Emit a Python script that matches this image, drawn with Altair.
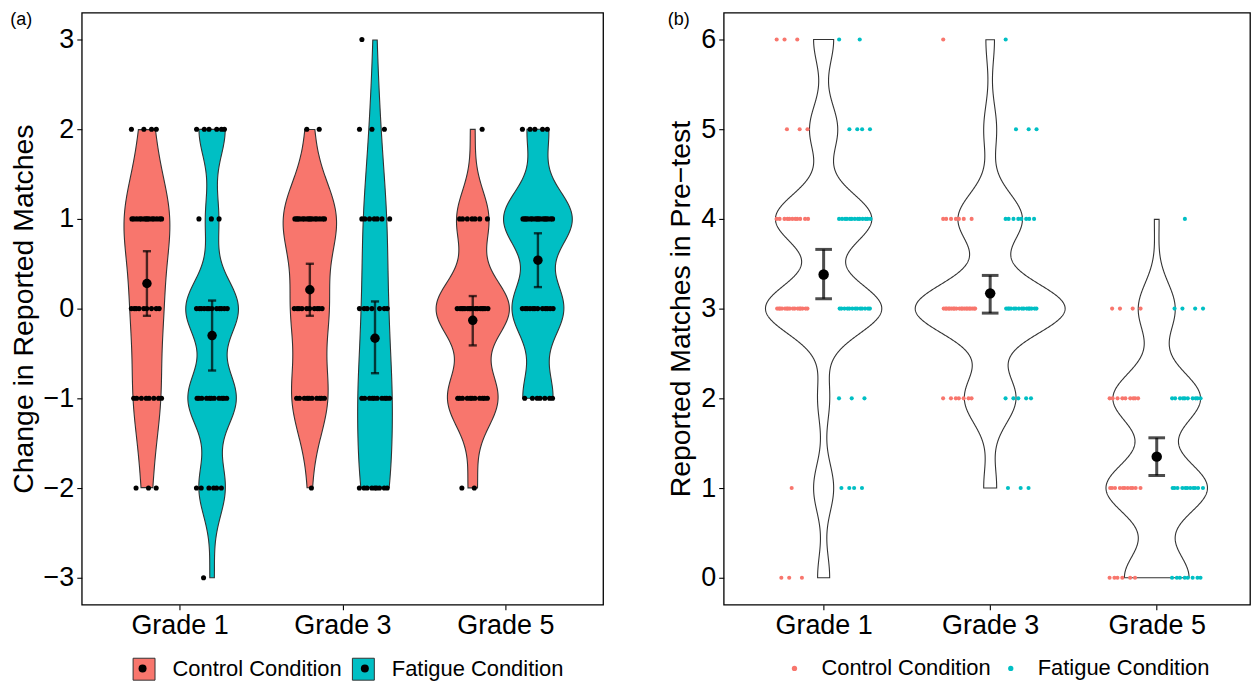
import json
import altair as alt
import pandas as pd

FONT = "Liberation Sans"
GRADES = ["Grade 1", "Grade 3", "Grade 5"]
CONDITIONS = ["Control Condition", "Fatigue Condition"]
COND_COLORS = ["#F8766D", "#00BFC4"]

# ---- panel (a): change in reported matches, counts per level ----
CHANGE_LEVELS = [-3, -2, -1, 0, 1, 2, 3]
change_g1_control = [0, 3, 8, 9, 14, 4, 0]
change_g1_fatigue = [1, 6, 11, 12, 3, 6, 0]
change_g3_control = [0, 1, 10, 10, 15, 2, 0]
change_g3_fatigue = [0, 9, 10, 7, 7, 3, 1]
change_g5_control = [0, 2, 11, 16, 7, 1, 0]
change_g5_fatigue = [0, 0, 7, 12, 16, 5, 0]

# group order: G1 control, G1 fatigue, G3 control, G3 fatigue, G5 control, G5 fatigue
change_mean = [0.28, -0.30, 0.21, -0.33, -0.13, 0.54]
change_low = [-0.08, -0.69, -0.08, -0.72, -0.41, 0.24]
change_high = [0.64, 0.09, 0.50, 0.08, 0.14, 0.84]

# ---- panel (b): reported matches in pre-test, counts per level ----
PRE_LEVELS = [0, 1, 2, 3, 4, 5, 6]
pre_g1_control = [3, 1, 0, 16, 11, 3, 3]
pre_g1_fatigue = [0, 4, 3, 13, 13, 4, 2]
pre_g3_control = [0, 0, 7, 20, 7, 0, 1]
pre_g3_fatigue = [0, 3, 5, 15, 8, 3, 1]
pre_g5_control = [6, 11, 9, 4, 0, 0, 0]
pre_g5_fatigue = [8, 11, 10, 4, 1, 0, 0]

pre_mean = [3.38, 3.17, 1.35]
pre_low = [3.11, 2.95, 1.14]
pre_high = [3.66, 3.37, 1.56]


def expand(levels, counts, grade, cond):
    rows = []
    for lvl, c in zip(levels, counts):
        rows += [{"grade": grade, "cond": cond, "value": lvl}] * c
    return rows


change_sets = [change_g1_control, change_g1_fatigue, change_g3_control,
               change_g3_fatigue, change_g5_control, change_g5_fatigue]
pre_sets = [pre_g1_control, pre_g1_fatigue, pre_g3_control,
            pre_g3_fatigue, pre_g5_control, pre_g5_fatigue]
groups = [(g, c) for g in GRADES for c in CONDITIONS]

change_rows, pre_rows = [], []
for (g, c), cs, ps in zip(groups, change_sets, pre_sets):
    change_rows += expand(CHANGE_LEVELS, cs, g, c)
    pre_rows += expand(PRE_LEVELS, ps, g, c)
change_df = pd.DataFrame(change_rows)
pre_df = pd.DataFrame(pre_rows)

change_sum = pd.DataFrame({
    "grade": [g for g, c in groups], "cond": [c for g, c in groups],
    "mean": change_mean, "low": change_low, "high": change_high})
pre_sum = pd.DataFrame({"grade": GRADES, "mean": pre_mean, "low": pre_low, "high": pre_high})

GIDX = f"(indexof({json.dumps(GRADES)}, datum.grade) + 1)"
DODGE_A = f"{GIDX} + (datum.cond == '{CONDITIONS[0]}' ? -0.2 : 0.2)"
DODGE_B = f"{GIDX} + (datum.cond == '{CONDITIONS[0]}' ? -0.1875 : 0.1875)"
LABEL_EXPR = f"{json.dumps(GRADES)}[datum.value - 1]"

xaxis = alt.Axis(values=[1, 2, 3], labelExpr=LABEL_EXPR, title=None, grid=False)


def violin(df, groupby, center_expr, half_max, **mark_kw):
    # ggplot-style violin: gaussian KDE with bw.nrd0 per group, trimmed, area-scaled
    return (
        alt.Chart(df)
        .transform_joinaggregate(sd="stdev(value)", q1="q1(value)", q3="q3(value)",
                                 n="count()", vmin="min(value)", vmax="max(value)",
                                 groupby=groupby)
        .transform_calculate(lo="min(datum.sd, (datum.q3 - datum.q1) / 1.34)")
        .transform_calculate(bw="0.9 * (datum.lo > 0 ? datum.lo : datum.sd) * pow(datum.n, -0.2)")
        .transform_calculate(vs="datum.value / datum.bw")
        .transform_density("vs", groupby=groupby + ["bw", "vmin", "vmax"], bandwidth=1,
                           steps=1200, as_=["vs", "dens"])
        .transform_calculate(v="datum.vs * datum.bw", d="datum.dens / datum.bw")
        .transform_filter("datum.v >= datum.vmin - 1e-9 && datum.v <= datum.vmax + 1e-9")
        .transform_joinaggregate(maxd="max(d)")
        .transform_calculate(cx=center_expr)
        .transform_calculate(xl=f"datum.cx - {half_max} * datum.d / datum.maxd",
                             xr=f"datum.cx + {half_max} * datum.d / datum.maxd")
        .mark_area(orient="horizontal", stroke="#333333", strokeWidth=1.1, **mark_kw)
    )


def axis_y(values, title):
    return alt.Axis(values=values, format="d", title=title, grid=False)


def panel_title(text):
    return alt.TitleParams(text, anchor="start", frame="bounds", fontSize=18,
                           fontWeight="normal", offset=-16, dx=1, color="black")


LEG_Y = 647
LEG_COMMON = dict(title=None, orient="none", direction="horizontal", padding=0,
                  labelFontSize=22, labelLimit=400, labelColor="black")


def build_panel(xscale, yscale, yaxis, vio, pts_df, pts_center, pts_size, pts_color,
                sumdf, center_expr, cap, bar_w, mean_size, mean_shape, width, title):
    def Xq(field):
        return alt.X(field, type="quantitative", scale=xscale, axis=xaxis)

    def Yq(field):
        return alt.Y(field, type="quantitative", scale=yscale, axis=yaxis)

    v_layer = vio.encode(y=Yq("v"), x=alt.X("xl:Q", scale=xscale, axis=xaxis, stack=None),
                         x2="xr:Q", detail="grade:N")
    pts = (
        alt.Chart(pts_df)
        .transform_window(rn="row_number()", groupby=["grade", "cond", "value"])
        .transform_calculate(cx=pts_center)
        .transform_calculate(px="datum.cx + (((datum.rn * 0.618034 + (datum.value + 5) * 0.31) % 1) - 0.5) * 0.2")
        .mark_circle(size=pts_size, opacity=1, **({"color": "black"} if pts_color is None else {}))
        .encode(x=Xq("px"), y=Yq("value"))
    )
    if pts_color is not None:
        pts = pts.encode(color=pts_color)

    base = alt.Chart(sumdf).transform_calculate(cx=center_expr).transform_calculate(
        cl=f"datum.cx - {cap}", cr=f"datum.cx + {cap}", cond_key="datum.cond || ''")
    kw = dict(color="black", opacity=0.7, strokeWidth=bar_w)
    bar = base.mark_rule(**kw).encode(x=Xq("cx"), y=Yq("low"), y2="high:Q")
    lo = base.mark_rule(**kw).encode(x=Xq("cl"), x2="cr:Q", y=Yq("low"))
    hi = base.mark_rule(**kw).encode(x=Xq("cl"), x2="cr:Q", y=Yq("high"))
    mean = base.mark_point(size=mean_size, filled=True, color="black", opacity=1,
                           shape="circle").encode(x=Xq("cx"), y=Yq("mean"))
    if mean_shape is not None:
        mean = mean.encode(shape=mean_shape)
    return alt.layer(v_layer, pts, bar, lo, hi, mean).properties(
        width=width, height=594, title=panel_title(title))


# ---------------- panel (a) ----------------
a_violin = violin(change_df, ["grade", "cond"], DODGE_A, 0.225).encode(
    fill=alt.Fill("cond:N", scale=alt.Scale(domain=CONDITIONS, range=COND_COLORS),
                  legend=alt.Legend(legendX=51, legendY=LEG_Y, symbolType="square",
                                    symbolSize=484, symbolStrokeColor="#333333",
                                    symbolStrokeWidth=1, labelOffset=17, columnPadding=8,
                                    **LEG_COMMON)))

# black dots drawn inside the legend keys (as in the ggplot key: violin + mean point)
a_shape = alt.Shape("cond_key:N", scale=alt.Scale(range=["circle", "circle"]),
                    legend=alt.Legend(legendX=50, legendY=LEG_Y, symbolSize=64,
                                      symbolFillColor="black", symbolStrokeWidth=0,
                                      symbolOpacity=1, labelOffset=0, columnPadding=201,
                                      labelExpr="''", **LEG_COMMON))

panel_a = build_panel(
    alt.Scale(domain=[0.4, 3.6], nice=False, zero=False),
    alt.Scale(domain=[-3.3, 3.3], nice=False, zero=False),
    axis_y(CHANGE_LEVELS, "Change in Reported Matches"),
    a_violin, change_df, DODGE_A, 26, None,
    change_sum, DODGE_A, 0.025, 2.4, 90, a_shape, 523, "(a)")

# ---------------- panel (b) ----------------
b_violin = violin(pre_df, ["grade"], GIDX, 0.45, fill="white")
b_color = alt.Color("cond:N", scale=alt.Scale(domain=CONDITIONS, range=COND_COLORS),
                    legend=alt.Legend(legendX=60, legendY=LEG_Y, symbolType="circle",
                                      symbolSize=28, labelOffset=16, columnPadding=9,
                                      **LEG_COMMON))

panel_b = build_panel(
    alt.Scale(domain=[0.4, 3.56], nice=False, zero=False),
    alt.Scale(domain=[-0.3, 6.3], nice=False, zero=False),
    axis_y(PRE_LEVELS, "Reported Matches in Pre\u2212test"),
    b_violin, pre_df, DODGE_B, 17, b_color,
    pre_sum, GIDX, 0.05, 3, 110, None, 528, "(b)")

chart = (
    alt.hconcat(panel_a, panel_b, spacing=62)
    .resolve_scale(fill="independent", color="independent", shape="independent")
    .resolve_legend(fill="independent", color="independent", shape="independent")
    .configure(font=FONT, padding={"left": 0, "top": 0.5, "right": 0, "bottom": 0})
    .configure_view(stroke="black", strokeWidth=1.3)
    .configure_axis(domain=False, tickColor="black", tickSize=5, tickWidth=1.1,
                    labelColor="black", labelFontSize=27, titleFontSize=28.5,
                    titleColor="black", titleFontWeight="normal", labelPadding=3,
                    titlePadding=5, labelFont=FONT, titleFont=FONT)
    .configure_legend(labelFont=FONT)
)

chart.save("out.html", embed_options={"renderer": "svg", "actions": False})
